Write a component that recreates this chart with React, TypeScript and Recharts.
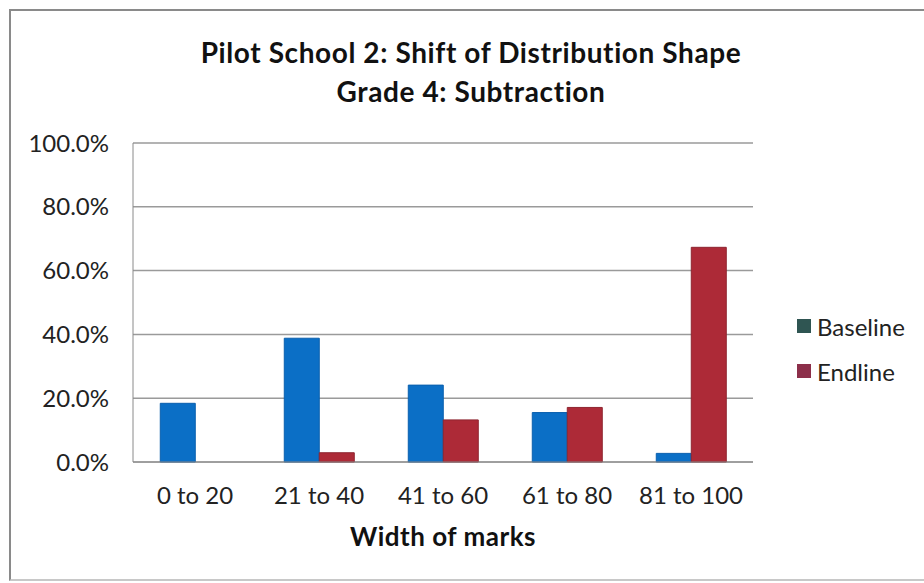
import { BarChart, Bar, XAxis, YAxis, CartesianGrid, Legend } from "recharts";

const categories = ["0 to 20", "21 to 40", "41 to 60", "61 to 80", "81 to 100"];
const baseline = [0.184, 0.388, 0.241, 0.155, 0.027];
const endline = [0, 0.029, 0.132, 0.171, 0.673];
const yTicks = [0, 0.2, 0.4, 0.6, 0.8, 1];

const data = categories.map((c, i) => ({
  name: c,
  Baseline: baseline[i],
  Endline: endline[i],
}));

const legendItems = [
  { label: "Baseline", color: "#2f5552" },
  { label: "Endline", color: "#8c2f4a" },
];

const font = "Lato, 'Open Sans', sans-serif";

function LegendBox() {
  return (
    <div style={{ fontFamily: font, fontSize: 24, color: "#222" }}>
      {legendItems.map((it, i) => (
        <div
          key={it.label}
          style={{ display: "flex", alignItems: "center", height: 26, marginTop: i ? 19 : 0 }}
        >
          <span
            style={{ width: 14, height: 14, background: it.color, display: "inline-block", marginRight: 6 }}
          />
          {it.label}
        </div>
      ))}
    </div>
  );
}

export default function App() {
  return (
    <div style={{ position: "absolute", left: 0, top: 0, width: 924, height: 583, background: "#fff" }}>
      <div
        style={{
          position: "absolute",
          left: 9,
          top: 9,
          width: 930,
          height: 572,
          border: "2px solid #8a8a8a",
          borderRight: "none",
          borderBottomColor: "#c8c8c8",
          boxSizing: "border-box",
        }}
      />
      <div
        style={{
          position: "absolute",
          left: 0,
          top: 33,
          width: 942,
          textAlign: "center",
          fontFamily: font,
          fontWeight: 700,
          fontSize: 28,
          letterSpacing: 0.6,
          lineHeight: "39px",
          color: "#111",
        }}
      >
        Pilot School 2: Shift of Distribution Shape
        <br />
        Grade 4: Subtraction
      </div>
      <BarChart
        width={924}
        height={583}
        data={data}
        margin={{ top: 143, right: 171, bottom: 0, left: 0 }}
        barCategoryGap="22%"
        barGap={0}
      >
        <CartesianGrid vertical={false} stroke="#9a9a9a" strokeWidth={1.5} />
        <XAxis
          dataKey="name"
          height={121}
          tickLine={false}
          tickSize={0}
          tickMargin={25}
          stroke="#8a8a8a"
          tick={{ fontFamily: font, fontSize: 24, fill: "#222" }}
          label={{
            value: "Width of marks",
            position: "insideTop",
            offset: 66,
            style: { fontFamily: font, fontSize: 26, fontWeight: 700, fill: "#111", letterSpacing: 0.5 },
          }}
        />
        <YAxis
          width={133}
          domain={[0, 1]}
          ticks={yTicks}
          tickFormatter={(v) => (v * 100).toFixed(1) + "%"}
          tickLine={false}
          tickSize={0}
          tickMargin={24}
          stroke="#8a8a8a"
          tick={{ fontFamily: font, fontSize: 24, fill: "#222" }}
        />
        <Legend
          layout="vertical"
          align="center"
          verticalAlign="middle"
          content={() => <LegendBox />}
          wrapperStyle={{ left: 797, top: 313, width: 127, height: 80 }}
        />
        <Bar dataKey="Baseline" fill="#0b6fc6" stroke="#0a5fae" isAnimationActive={false} />
        <Bar dataKey="Endline" fill="#ad2a37" stroke="#8e2530" isAnimationActive={false} />
      </BarChart>
    </div>
  );
}
